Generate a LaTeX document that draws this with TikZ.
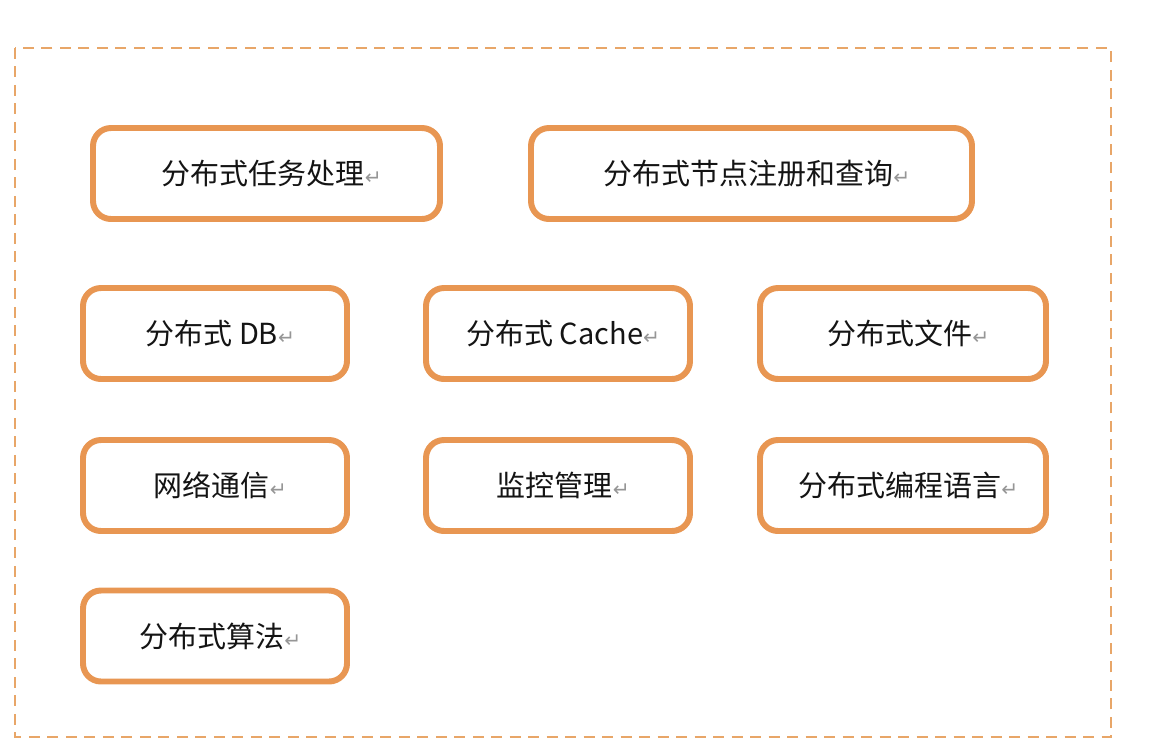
\documentclass[tikz,border=0pt]{standalone}
\usepackage{fontspec}
\usepackage{xcolor}
\usepackage{tikz}
\usetikzlibrary{positioning}
\setmainfont{Noto Sans CJK SC}
\newfontfamily\symfont{DejaVu Sans}
\definecolor{boxorange}{RGB}{232,150,82}
\definecolor{frameorange}{RGB}{232,166,104}
\definecolor{textblack}{RGB}{20,20,20}
\definecolor{markgray}{RGB}{150,150,150}
\newcommand{\retmark}{{\symfont\fontsize{11.5}{11.5}\selectfont\color{markgray}↵}}
\tikzset{
  modbox/.style={draw=boxorange, line width=3.4pt, rounded corners=0.36cm, fill=white,
    minimum height=91*0.02cm, inner sep=0pt, text=textblack,
    font=\fontsize{16.5}{20}\selectfont},
  outerframe/.style={draw=frameorange, line width=1.5pt, dash pattern=on 0.22cm off 0.15cm}
}

\begin{document}
\begin{tikzpicture}[x=0.02cm, y=-0.02cm]
  \useasboundingbox (0,0) rectangle (1160,754);
  % dashed outer frame
  \draw[outerframe] (15,48) rectangle (1111,737);
  % first row
  \node[modbox, minimum width=347*0.02cm] (task) at (266.5,173.5) {\hspace{6pt}分布式任务处理\retmark};
  \node[modbox, minimum width=441*0.02cm] (registry) at (751.5,173.5) {\hspace{6pt}分布式节点注册和查询\retmark};
  % second row
  \node[modbox, minimum width=264*0.02cm] (db) at (215,333.5) {\hspace{6pt}分布式 DB\retmark};
  \node[modbox, minimum width=264*0.02cm] (cache) at (558,333.5) {\hspace{6pt}分布式 Cache\retmark};
  \node[modbox, minimum width=286*0.02cm] (file) at (903,333.5) {\hspace{6pt}分布式文件\retmark};
  % third row
  \node[modbox, minimum width=264*0.02cm] (network) at (215,485.5) {\hspace{6pt}网络通信\retmark};
  \node[modbox, minimum width=264*0.02cm] (monitor) at (558,485.5) {\hspace{6pt}监控管理\retmark};
  \node[modbox, minimum width=286*0.02cm] (lang) at (903,485.5) {\hspace{6pt}分布式编程语言\retmark};
  % last row
  \node[modbox, minimum width=264*0.02cm] (algo) at (215,636) {\hspace{6pt}分布式算法\retmark};
\end{tikzpicture}
\end{document}
